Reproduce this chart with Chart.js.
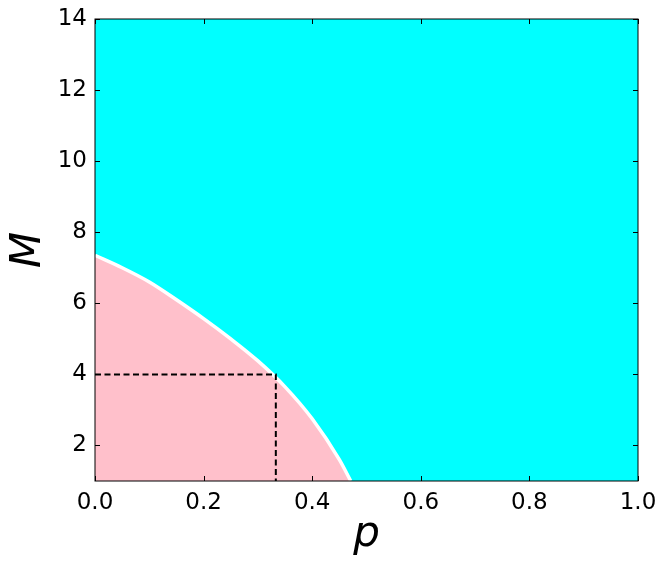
<!DOCTYPE html>
<html>
<head>
<meta charset="utf-8">
<script src="https://cdn.jsdelivr.net/npm/chart.js@4.4.1/dist/chart.umd.min.js"></script>
<style>
html, body { margin: 0; padding: 0; background: #fff; }
</style>
</head>
<body>
<canvas id="myChart" width="667" height="568"></canvas>
<script>
// boundary curve between the two regions
var pValues = [0, 0.05, 0.1, 0.15, 0.2, 0.25, 0.3, 0.35, 0.4, 0.45, 0.471];
var mValues = [7.35, 7.0, 6.6, 6.1, 5.57, 5.0, 4.38, 3.65, 2.75, 1.6, 1.0];

// dashed guide to the point (1/3, 4)
var dashP = [0, 0.333, 0.333];
var dashM = [4, 4, 1];

var xTicks = [0, 0.2, 0.4, 0.6, 0.8, 1.0];
var yTicks = [2, 4, 6, 8, 10, 12, 14];

function toPoints(xs, ys) {
    var pts = [];
    for (var i = 0; i < xs.length; i++) {
        pts.push({ x: xs[i], y: ys[i] });
    }
    return pts;
}

// cyan background, frame and inward ticks on all four sides
const framePlugin = {
    id: 'frame',
    beforeDatasetsDraw(chart) {
        const a = chart.chartArea;
        const ctx = chart.ctx;
        ctx.save();
        ctx.fillStyle = '#00ffff';
        ctx.fillRect(a.left, a.top, a.right - a.left, a.bottom - a.top);
        ctx.restore();
    },
    afterDatasetsDraw(chart) {
        const a = chart.chartArea;
        const ctx = chart.ctx;
        const xs = chart.scales.x, ys = chart.scales.y;
        const len = 5;
        ctx.save();
        ctx.strokeStyle = '#000';
        ctx.lineWidth = 1;
        ctx.beginPath();
        xTicks.forEach(function (v) {
            var px = Math.round(xs.getPixelForValue(v)) + 0.5;
            ctx.moveTo(px, a.bottom); ctx.lineTo(px, a.bottom - len);
            ctx.moveTo(px, a.top); ctx.lineTo(px, a.top + len);
        });
        yTicks.forEach(function (v) {
            var py = Math.round(ys.getPixelForValue(v)) + 0.5;
            ctx.moveTo(a.left, py); ctx.lineTo(a.left + len, py);
            ctx.moveTo(a.right, py); ctx.lineTo(a.right - len, py);
        });
        ctx.stroke();
        ctx.strokeRect(a.left, a.top, a.right - a.left, a.bottom - a.top);
        ctx.restore();
    }
};

Chart.defaults.font.family = "'DejaVu Sans', sans-serif";
Chart.defaults.color = '#000';

const ctx = document.getElementById('myChart');

new Chart(ctx, {
    type: 'scatter',
    data: {
        datasets: [{
            data: toPoints(pValues, mValues),
            showLine: true,
            fill: 'origin',
            backgroundColor: '#ffc0cb',
            borderColor: '#ffffff',
            borderWidth: 3.5,
            pointRadius: 0,
            cubicInterpolationMode: 'monotone',
            order: 1
        }, {
            data: toPoints(dashP, dashM),
            showLine: true,
            fill: false,
            borderColor: '#000000',
            borderWidth: 2,
            borderDash: [6, 3.5],
            pointRadius: 0,
            order: 0
        }]
    },
    options: {
        responsive: false,
        animation: false,
        devicePixelRatio: 1,
        layout: { padding: { top: 19, right: 29, left: 0, bottom: 0 } },
        plugins: {
            legend: { display: false },
            tooltip: { enabled: false }
        },
        scales: {
            x: {
                type: 'linear',
                min: 0,
                max: 1,
                grid: { display: false, drawTicks: false },
                border: { display: false },
                ticks: {
                    padding: 8,
                    font: { size: 23 },
                    maxRotation: 0,
                    callback: function (v) { return Number(v).toFixed(1); }
                },
                afterBuildTicks: function (scale) {
                    scale.ticks = xTicks.map(function (v) { return { value: v }; });
                },
                afterFit: function (scale) {
                    scale.height = 87;
                    scale.paddingLeft = 0;
                    scale.paddingRight = 0;
                },
                title: {
                    display: true,
                    text: 'p',
                    font: { size: 42, style: 'italic' },
                    padding: { top: 0, bottom: 8 }
                }
            },
            y: {
                type: 'linear',
                min: 1,
                max: 14,
                grid: { display: false, drawTicks: false },
                border: { display: false },
                ticks: {
                    padding: 8,
                    font: { size: 23 },
                    callback: function (v) { return String(v); }
                },
                afterBuildTicks: function (scale) {
                    scale.ticks = yTicks.map(function (v) { return { value: v }; });
                },
                afterFit: function (scale) {
                    scale.width = 95;
                    scale.paddingTop = 0;
                    scale.paddingBottom = 0;
                },
                title: {
                    display: true,
                    text: 'M',
                    font: { size: 42, style: 'italic' },
                    padding: { top: 4, bottom: 0 }
                }
            }
        }
    },
    plugins: [framePlugin]
});
</script>
</body>
</html>
